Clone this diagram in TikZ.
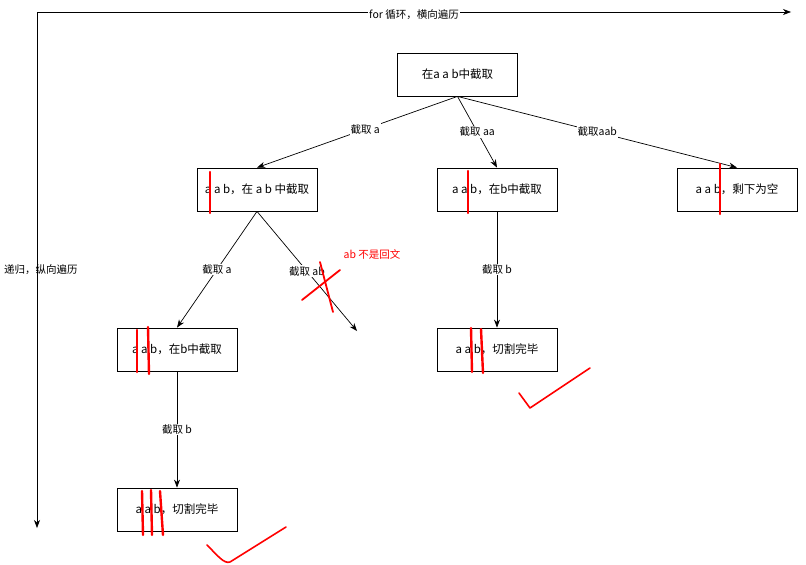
\documentclass[tikz,border=0pt]{standalone}
\usepackage{fontspec}
\setmainfont{Noto Sans CJK SC}
\usetikzlibrary{arrows.meta}
\begin{document}
\begin{tikzpicture}[x=1pt,y=-1pt,
  box/.style={draw,line width=0.8pt,minimum width=120pt,minimum height=43pt,inner sep=0pt,font=\fontsize{11.5}{13}\selectfont},
  conn/.style={line width=0.7pt,-{Stealth[length=8pt,width=6pt,inset=2.5pt]}},
  elabel/.style={fill=white,inner sep=1pt,font=\fontsize{10.5}{12}\selectfont},
  redmark/.style={red,line width=2.4pt,line cap=round},
  redcheck/.style={red,line width=1.6pt,line cap=round,line join=round}]
\useasboundingbox (0,0) rectangle (806,565);
% axes
\coordinate (corner) at (37,12);
\coordinate (vend) at (37,528);
\coordinate (hend) at (791,12);
\draw[conn] (corner) -- (vend);
\draw[conn] (corner) -- node[elabel,pos=0.5,yshift=-3pt] {for 循环，横向遍历} (hend);
\node[font=\fontsize{10.5}{12}\selectfont] (vlabel) at (41,270) {递归，纵向遍历};
% nodes
\node[box] (top) at (457.5,74.5) {在a a b中截取};
\node[box] (a1) at (257,189.5) {a a b，在 a b 中截取};
\node[box] (a2) at (497,189.5) {a a b，在b中截取};
\node[box] (a3) at (737,189.5) {a a b，剩下为空};
\node[box] (b1) at (177,349.5) {a a b，在b中截取};
\node[box] (b2) at (497,349.5) {a a b，切割完毕};
\node[box] (c1) at (177,509.5) {a a b，切割完毕};
\coordinate (freeend) at (357,331);
% connectors
\draw[conn] (top.south) -- node[elabel,pos=0.46] {截取 a} (a1.north);
\draw[conn] (top.south) -- node[elabel,pos=0.5] {截取 aa} (a2.north);
\draw[conn] (top.south) -- node[elabel,pos=0.5] {截取aab} (a3.north);
\draw[conn] (a1.south) -- node[elabel,pos=0.5] {截取 a} (b1.north);
\draw[conn] (a1.south) -- node[elabel,pos=0.5] {截取 ab} (freeend);
\draw[conn] (a2.south) -- node[elabel,pos=0.5] {截取 b} (b2.north);
\draw[conn] (b1.south) -- node[elabel,pos=0.5] {截取 b} (c1.north);
% red annotations
\draw[redmark] (210,172) -- (210,213);
\draw[redmark] (468,171) -- (468,213);
\draw[redmark] (720,164) -- (720,214);
\draw[redmark] (137,330) -- (137,372);
\draw[redmark] (148,327) -- (149,374);
\draw[redmark] (471,328) -- (472,372);
\draw[redmark] (481,329) -- (483,373);
\draw[redmark] (142,491) -- (143,535);
\draw[redmark] (151,490) -- (152,535);
\draw[redmark] (160,491) -- (163,535);
\draw[redcheck] (519,393) -- (530,408) -- (590,368);
\draw[redcheck] (207,545) .. controls (218,556) and (224,564) .. (230,562) -- (286,527);
\draw[redmark,line width=1.8pt] (302,300) -- (340,270);
\draw[redmark,line width=1.8pt] (320,262) -- (333,312);
\node[red,font=\fontsize{10.5}{12}\selectfont] (note) at (372,254) {ab 不是回文};
\end{tikzpicture}
\end{document}
